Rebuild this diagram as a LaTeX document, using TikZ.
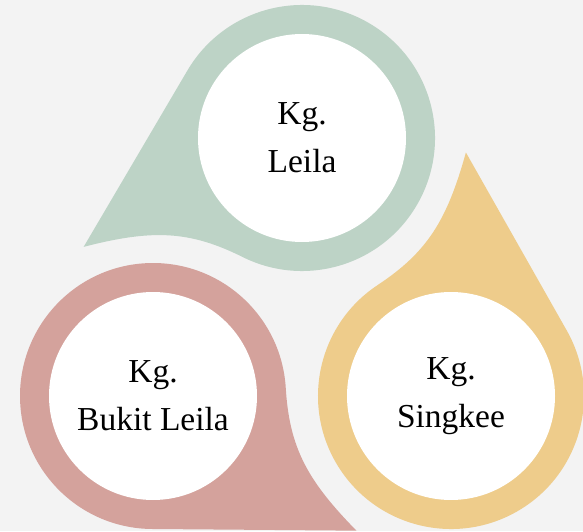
\documentclass[tikz,border=0pt]{standalone}
\usepackage{fontspec}
\setmainfont{Liberation Serif}
\definecolor{bgc}{HTML}{F3F3F3}
\definecolor{tgreen}{HTML}{BDD3C6}
\definecolor{tpink}{HTML}{D4A29C}
\definecolor{tyellow}{HTML}{EECC8B}
\begin{document}
\begin{tikzpicture}[x=1pt,y=1pt,
  tear/.pic={\fill[pic actions] (-244,0) -- (123:133) arc[start angle=123,end angle=-143,radius=133pt] .. controls (-142.3,-32.1) and (-175.5,-14.6) .. cycle;},
  inner/.style={circle, fill=white, minimum size=208pt, inner sep=0pt, align=center, font=\fontsize{33.5}{48}\selectfont, text=black}]
\useasboundingbox (0,0) rectangle (583,531);
\clip (0,0) rectangle (583,531);
\fill[bgc] (0,0) rectangle (583,531);
\pic[fill=tgreen, rotate=26.5] at (302,393) {tear};
\pic[fill=tyellow, rotate=-93.5] at (451,135) {tear};
\pic[fill=tpink, rotate=146.5] at (153,135) {tear};
\node[inner] (leila) at (302,393) {Kg.\\Leila};
\node[inner] (singkee) at (451,135) {Kg.\\Singkee};
\node[inner] (bukit) at (153,135) {Kg.\\Bukit Leila};
\end{tikzpicture}
\end{document}
